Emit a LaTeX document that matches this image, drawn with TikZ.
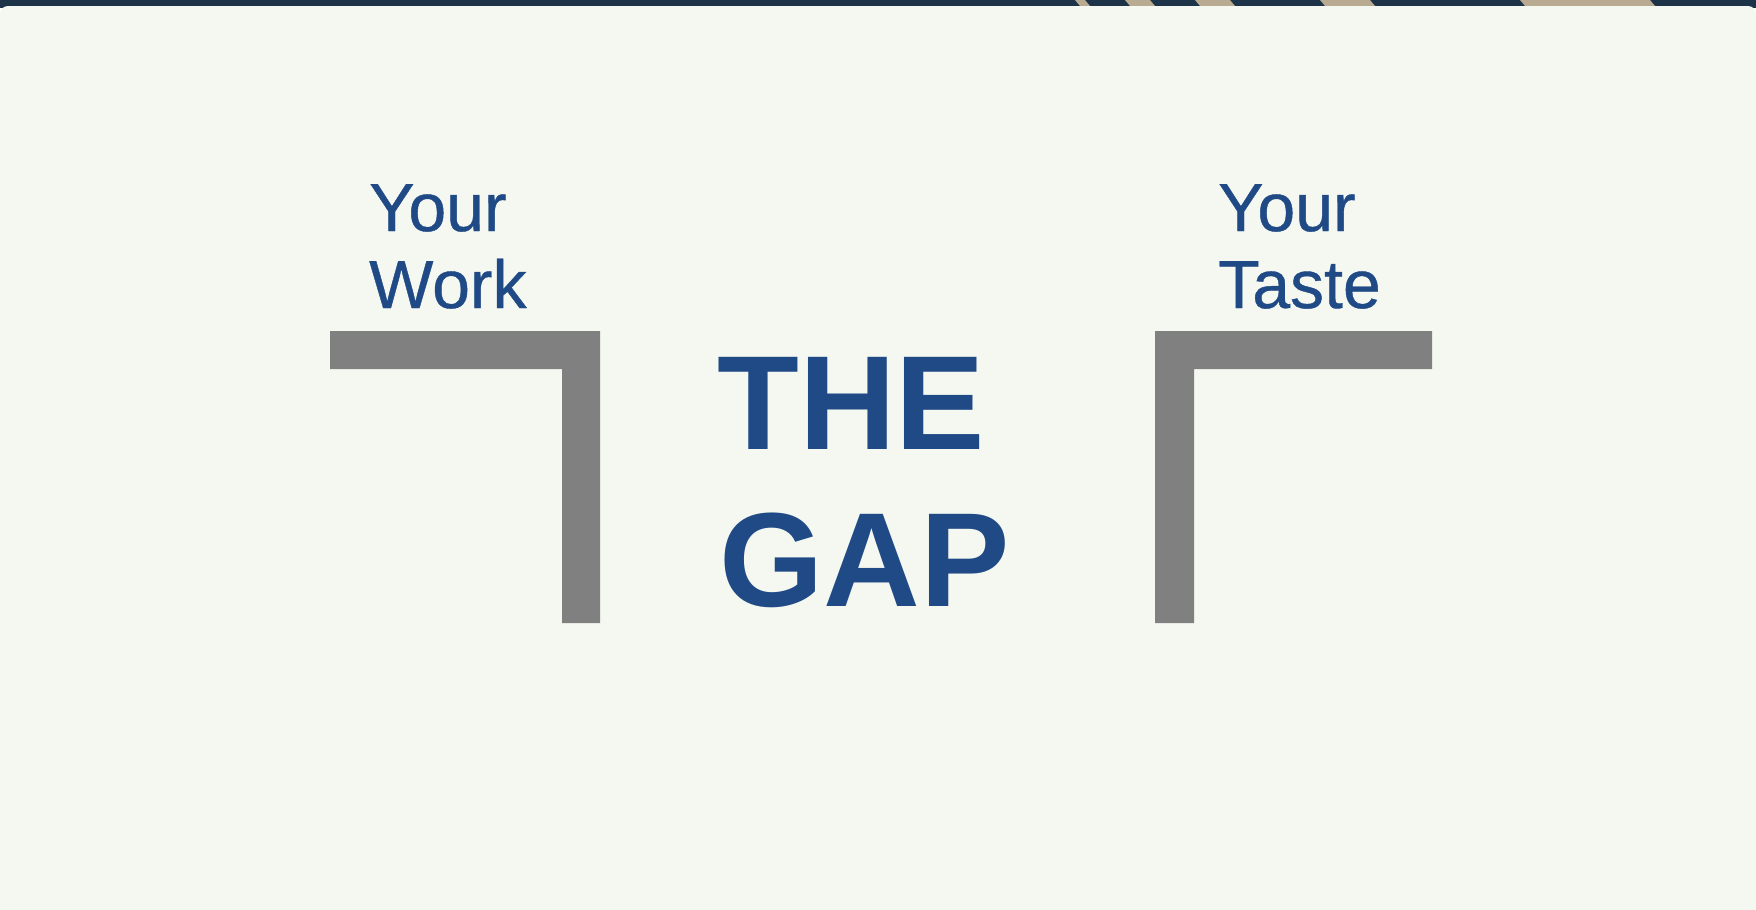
\documentclass[tikz,border=0pt]{standalone}
\usepackage{fontspec}
\setmainfont{Liberation Sans}
\newfontfamily\capfont[FakeBold=0.6]{Liberation Sans}
\definecolor{slidebg}{HTML}{F5F8F1}
\definecolor{topband}{HTML}{1C3348}
\definecolor{stripe}{HTML}{B9AA92}
\definecolor{gapblue}{HTML}{1F4A86}
\definecolor{bargray}{HTML}{808080}
\tikzset{
  caption/.style={anchor=base west, inner sep=0pt, text=gapblue, font=\capfont\fontsize{68}{78}\selectfont},
  gaptext/.style={anchor=base west, inner sep=0pt, text=gapblue, font=\bfseries\fontsize{134}{150}\selectfont},
  bar/.style={fill=bargray, draw=none}
}
\begin{document}
\begin{tikzpicture}
[x=1pt, y=-1pt]
\useasboundingbox (0,0) rectangle (1756,910);

%________________________________________________%
\fill[topband] (0,0) rectangle (1756,8);
\fill[stripe] (1075,0) -- (1085,0) -- (1090,6) -- (1080,6) -- cycle;
\fill[stripe] (1125,0) -- (1150,0) -- (1155,6) -- (1130,6) -- cycle;
\fill[stripe] (1195,0) -- (1230,0) -- (1235,6) -- (1200,6) -- cycle;
\fill[stripe] (1320,0) -- (1370,0) -- (1375,6) -- (1325,6) -- cycle;
\fill[stripe] (1520,0) -- (1650,0) -- (1655,6) -- (1525,6) -- cycle;
\fill[slidebg, rounded corners=8pt] (0,6) rectangle (1756,915);
%________________________________________________%
% left bracket
\fill[bar] (330,331) -- (600,331) -- (600,623) -- (562,623) -- (562,369) -- (330,369) -- cycle;
\node[caption] (work1) at (369,231) {Your};
\node[caption] (work2) at (369,308) {Work};
%________________________________________________%
% right bracket
\fill[bar] (1155,331) -- (1432,331) -- (1432,369) -- (1194,369) -- (1194,623) -- (1155,623) -- cycle;
\node[caption] (taste1) at (1218,231) {Your};
\node[caption] (taste2) at (1218,308) {Taste};
%________________________________________________%
\node[gaptext] (gap1) at (717,449) {THE};
\node[gaptext] (gap2) at (719,606) {GAP};
%________________________________________________%
\end{tikzpicture}
\end{document}
